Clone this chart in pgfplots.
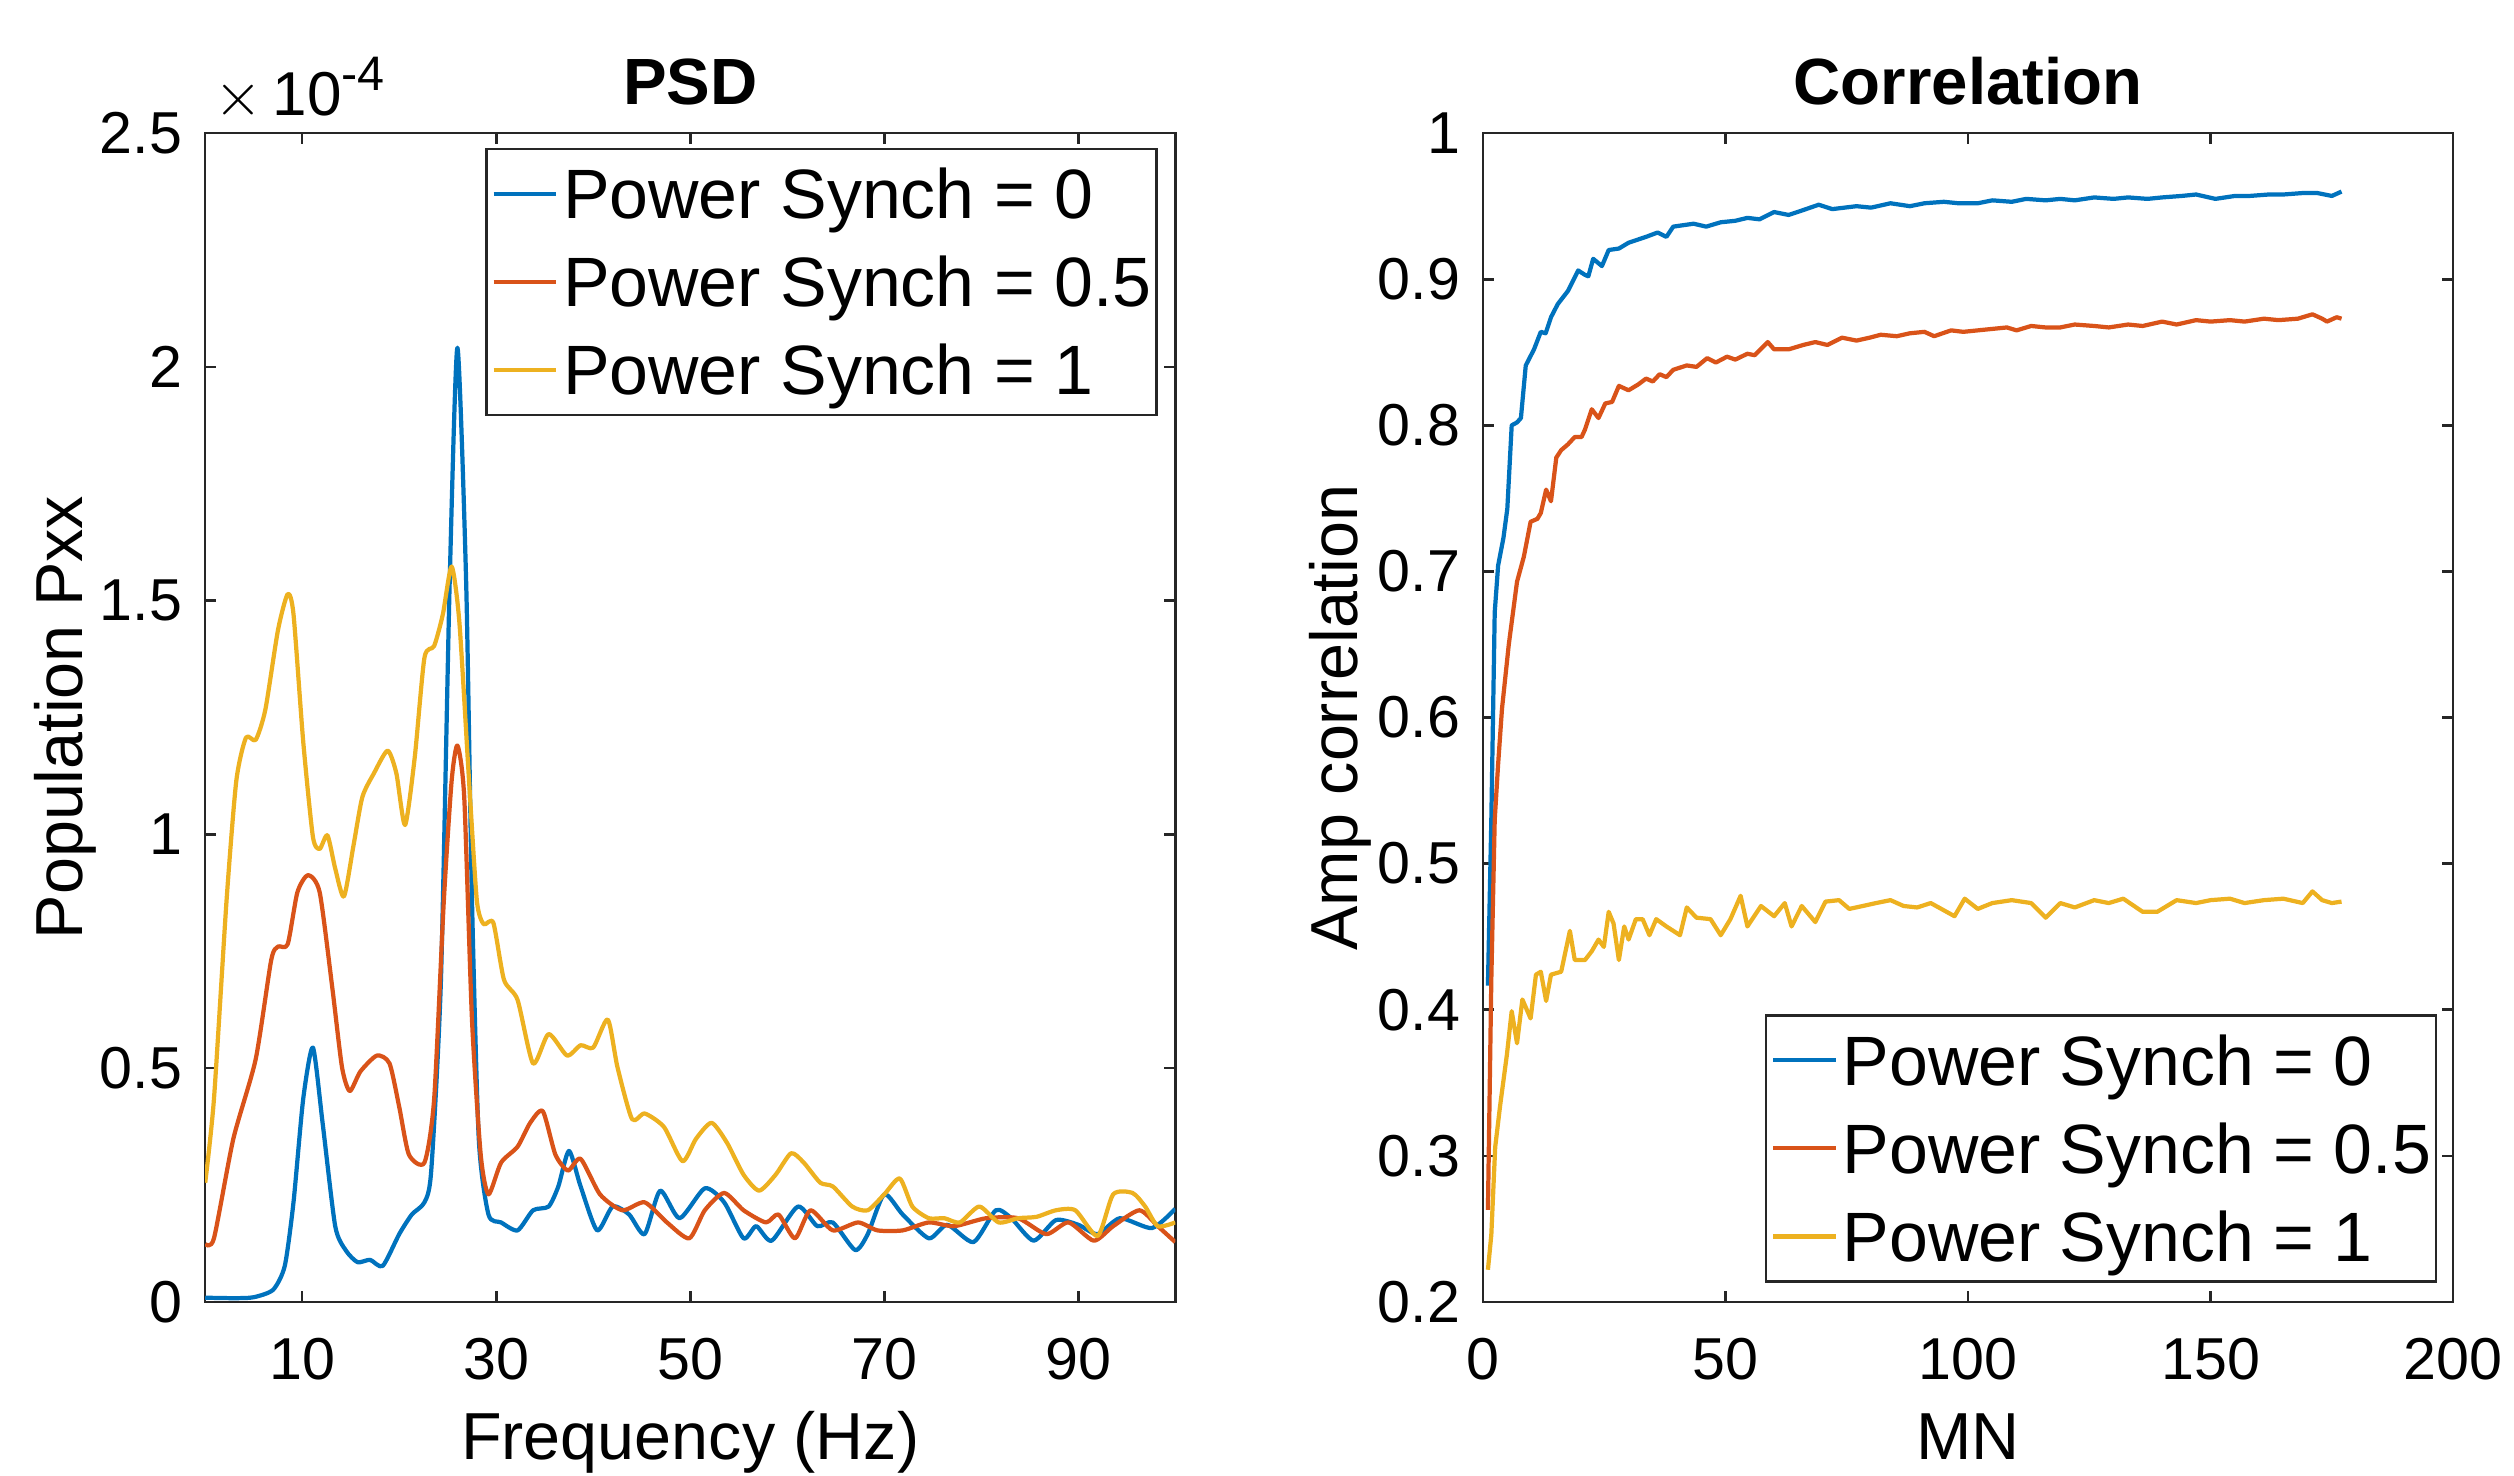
\documentclass[border=0pt]{standalone}
\usepackage{pgfplots}
\pgfplotsset{compat=1.18}
\usepackage{fontspec}
\setmainfont{Liberation Sans}
\definecolor{mblue}{rgb}{0,0.447,0.741}
\definecolor{mred}{rgb}{0.850,0.325,0.098}
\definecolor{myellow}{rgb}{0.929,0.694,0.125}
\definecolor{axgray}{rgb}{0.15,0.15,0.15}
\pgfplotsset{
  myaxis/.style={
    scale only axis, width=6.05cm, height=7.29cm,
    axis line style={draw=axgray, line width=0.45pt},
    tick style={draw=axgray, line width=0.45pt},
    major tick length=0.07cm, tick align=inside,
    ticklabel style={font=\fontsize{10.5}{12}\selectfont, text=black},
    xticklabel style={yshift=-0.1cm},
    yticklabel style={xshift=-0.02cm},
    /pgf/number format/assume math mode=true,
    every axis title/.style={at={(0.5,1)}, anchor=base, yshift=0.18cm, font=\bfseries\fontsize{11.6}{13}\selectfont},
    every axis x label/.style={at={(axis description cs:0.5,0)}, anchor=base, yshift=-0.98cm, font=\fontsize{11.8}{13}\selectfont},
    every axis y label/.style={at={(axis description cs:-0.127,0.5)}, rotate=90, anchor=base, font=\fontsize{11.8}{13}\selectfont},
    legend cell align=left,
    legend image code/.code={\draw[#1, line width=0.75pt] (0cm,0cm) -- (0.39cm,0cm);},
    legend style={draw=axgray, line width=0.45pt, font=\fontsize{12.4}{14}\selectfont,
      inner xsep=0.03cm, inner ysep=0.065cm, row sep=0.12cm, column sep=0.03cm,
      nodes={inner sep=0pt, text height=0.37cm, text depth=0.06cm}},
    every axis plot/.append style={line width=0.75pt, line join=round},
  }
}
\begin{document}
\begin{tikzpicture}
\path[use as bounding box] (0,0) rectangle (15.68cm,9.2cm);
\begin{axis}[myaxis, name=psd, at={(1.28cm,1.08cm)}, anchor=south west,
  title={PSD}, xlabel={Frequency (Hz)}, ylabel={Population Pxx},
  xmin=0, xmax=100, ymin=0, ymax=2.5,
  xtick={10,30,50,70,90}, ytick={0,0.5,1,1.5,2,2.5},
  legend style={at={(rel axis cs:1,1)}, anchor=north east, xshift=-0.11cm, yshift=-0.09cm},
]
\addplot[mblue, smooth, tension=0.4] coordinates {
(0,0.009) (3,0.008) (5,0.010) (7,0.026) (8.2,0.077) (9.1,0.213) (10.1,0.434) (11.1,0.544) (12.1,0.383) (13.4,0.162) (14.5,0.110) (15.7,0.085) (17,0.090) (18.3,0.077) (20,0.145) (21.3,0.187) (22.6,0.213) (23.3,0.281) (24.3,0.689) (25.2,1.539) (26,2.041) (26.9,1.539) (27.5,0.859) (28.2,0.349) (29.2,0.187) (30.5,0.170) (32.2,0.153) (33.8,0.196) (35.4,0.204) (36.4,0.247) (37.5,0.323) (38.7,0.247) (40.4,0.153) (42,0.204) (43.7,0.187) (45.3,0.145) (46.9,0.238) (48.9,0.179) (51.5,0.243) (53.5,0.213) (55.5,0.136) (56.8,0.162) (58.4,0.131) (61.1,0.204) (63.1,0.162) (64.7,0.170) (67,0.111) (68.3,0.145) (70,0.230) (71.9,0.187) (74.6,0.136) (76.5,0.165) (79.2,0.128) (81.5,0.196) (83.1,0.179) (85.4,0.131) (87.7,0.175) (90,0.165) (92,0.145) (94.3,0.179) (97.6,0.158) (100,0.199)
};
\addlegendentry{Power Synch = 0}
\addplot[mred, smooth, tension=0.4] coordinates {
(0,0.124) (0.9,0.136) (2.9,0.349) (5.2,0.519) (6.8,0.731) (7.5,0.760) (8.5,0.765) (9.5,0.876) (10.6,0.913) (11.8,0.876) (13.1,0.672) (14.1,0.502) (14.9,0.451) (16,0.493) (17.7,0.527) (19,0.510) (20,0.417) (21,0.315) (22.6,0.298) (23.6,0.434) (24.6,0.859) (25.4,1.114) (26,1.190) (26.7,1.080) (27.5,0.604) (28.4,0.315) (29.2,0.230) (30.5,0.298) (32.2,0.332) (33.5,0.383) (34.8,0.408) (36.1,0.315) (37.4,0.281) (38.7,0.306) (40.7,0.230) (43,0.196) (45.3,0.213) (47.6,0.170) (49.9,0.136) (51.5,0.196) (53.5,0.233) (55.5,0.196) (57.8,0.170) (59.1,0.187) (60.8,0.136) (62.4,0.196) (64.7,0.153) (67.3,0.170) (69.3,0.153) (71.9,0.153) (74.6,0.170) (77.2,0.162) (80.5,0.179) (83.8,0.179) (86.7,0.145) (89,0.170) (91.6,0.131) (93.6,0.162) (96.3,0.196) (98.2,0.162) (100,0.128)
};
\addlegendentry{Power Synch = 0.5}
\addplot[myellow, smooth, tension=0.4] coordinates {
(0,0.255) (0.9,0.434) (2.2,0.859) (3.2,1.114) (4.2,1.207) (5.2,1.202) (6.2,1.267) (7.5,1.437) (8.5,1.514) (9.1,1.471) (10.1,1.199) (11.1,0.995) (11.8,0.969) (12.6,0.998) (13.4,0.927) (14.3,0.867) (15.3,0.978) (16.2,1.080) (17.4,1.131) (18.8,1.179) (19.7,1.131) (20.6,1.020) (21.6,1.165) (22.6,1.378) (23.6,1.403) (24.5,1.471) (25.4,1.573) (26.2,1.454) (27.2,1.114) (28,0.859) (28.7,0.808) (29.7,0.811) (30.8,0.689) (32.2,0.646) (33.8,0.510) (35.4,0.573) (37.3,0.527) (38.7,0.549) (40,0.544) (41.5,0.604) (42.5,0.502) (44,0.391) (45.3,0.403) (47.3,0.374) (49.2,0.301) (50.6,0.349) (52.2,0.383) (53.8,0.340) (55.5,0.272) (57.1,0.238) (58.8,0.272) (60.4,0.318) (61.7,0.298) (63.4,0.255) (64.7,0.247) (66.7,0.204) (68.3,0.196) (70,0.230) (71.6,0.264) (72.9,0.204) (74.6,0.179) (76.2,0.179) (77.8,0.170) (79.8,0.204) (81.8,0.170) (83.8,0.179) (85.7,0.182) (87.7,0.196) (89.7,0.196) (92,0.141) (93.6,0.230) (95.6,0.233) (96.9,0.204) (98.2,0.162) (100,0.170)
};
\addlegendentry{Power Synch = 1}
\end{axis}
\node[anchor=base west, inner sep=0pt, font=\fontsize{11}{12}\selectfont] at ([xshift=0.05cm,yshift=0.11cm]psd.north west) {$\times$\,10\raisebox{0.75ex}{\fontsize{8.6}{10}\selectfont -4}};
\begin{axis}[myaxis, at={(9.25cm,1.08cm)}, anchor=south west,
  title={Correlation}, xlabel={MN}, ylabel={Amp correlation},
  xmin=0, xmax=200, ymin=0.2, ymax=1,
  xtick={0,50,100,150,200}, ytick={0.2,0.3,0.4,0.5,0.6,0.7,0.8,0.9,1},
  every axis y label/.style={at={(axis description cs:-0.129,0.5)}, rotate=90, anchor=base, font=\fontsize{11.8}{13}\selectfont},
  legend style={at={(rel axis cs:1,0)}, anchor=south east, xshift=-0.10cm, yshift=0.12cm},
]
\addplot[mblue] coordinates {
(1,0.4165) (1.7,0.530) (2.4,0.672) (3.1,0.704) (4.2,0.723) (5,0.743) (5.9,0.800) (7,0.802) (7.8,0.805) (8.8,0.841) (10.5,0.852) (11.9,0.864) (12.9,0.863) (14,0.874) (15.4,0.883) (17.5,0.892) (19.6,0.906) (21,0.903) (21.7,0.902) (22.7,0.914) (24.5,0.909) (25.9,0.920) (28,0.921) (30,0.925) (33.6,0.929) (36,0.932) (37.8,0.929) (39.2,0.936) (43.4,0.938) (46,0.936) (49,0.939) (52,0.940) (54.5,0.942) (57,0.941) (60,0.946) (63,0.944) (65.7,0.947) (69.2,0.951) (72,0.948) (77,0.950) (80,0.949) (84,0.952) (88,0.950) (91,0.952) (95,0.953) (98,0.952) (102,0.952) (105,0.954) (109,0.953) (112,0.955) (116,0.954) (119,0.955) (122,0.954) (126,0.956) (130,0.955) (133,0.956) (137,0.955) (140,0.956) (144,0.957) (147,0.958) (151,0.955) (155,0.957) (158,0.957) (162,0.958) (165,0.958) (169,0.959) (172,0.959) (175,0.957) (177,0.960)
};
\addlegendentry{Power Synch = 0}
\addplot[mred] coordinates {
(1,0.263) (1.7,0.421) (2.4,0.530) (3.1,0.568) (3.9,0.606) (5.3,0.650) (7,0.693) (8.4,0.710) (9.8,0.734) (11.2,0.736) (11.9,0.740) (13,0.756) (14,0.748) (15.1,0.778) (16.1,0.783) (17.5,0.787) (18.9,0.792) (20.3,0.792) (21,0.797) (22.4,0.811) (23.8,0.805) (25.2,0.815) (26.6,0.816) (28,0.827) (30,0.824) (32,0.828) (33.6,0.832) (35,0.830) (36.4,0.835) (37.8,0.833) (39.2,0.838) (42,0.841) (44,0.840) (46.2,0.846) (48,0.843) (50.3,0.847) (52,0.845) (54.5,0.849) (56,0.848) (58.7,0.857) (60,0.852) (63,0.852) (66,0.855) (68.5,0.857) (71,0.855) (74,0.860) (77,0.858) (79.7,0.860) (82,0.862) (85.3,0.861) (88,0.863) (91,0.864) (93,0.861) (96.5,0.865) (99,0.864) (102,0.865) (105,0.866) (108,0.867) (110,0.865) (113,0.868) (116,0.867) (119,0.867) (122,0.869) (126,0.868) (129,0.867) (133,0.869) (136,0.868) (140,0.871) (143,0.869) (147,0.872) (150,0.871) (154,0.872) (157,0.871) (161,0.873) (164,0.872) (168,0.873) (171,0.876) (173,0.873) (174,0.871) (176,0.874) (177,0.873)
};
\addlegendentry{Power Synch = 0.5}
\addplot[myellow] coordinates {
(1,0.222) (1.7,0.246) (2.5,0.306) (3.5,0.334) (4.9,0.369) (5.9,0.399) (7,0.377) (8.1,0.407) (9.8,0.394) (10.9,0.424) (11.9,0.426) (13,0.406) (14,0.424) (16.1,0.426) (17.9,0.454) (18.9,0.434) (21,0.434) (22.4,0.440) (23.8,0.448) (24.9,0.443) (25.9,0.467) (26.9,0.459) (28,0.434) (29.1,0.457) (30,0.448) (31.5,0.462) (32.9,0.462) (34.3,0.451) (35.7,0.462) (37.8,0.457) (40.6,0.451) (42,0.470) (44,0.463) (46.9,0.462) (49,0.451) (51,0.462) (53.1,0.478) (54.5,0.457) (57.3,0.471) (60,0.464) (62.2,0.473) (63.6,0.457) (65.7,0.471) (68.5,0.460) (70.6,0.474) (73.4,0.475) (75.5,0.469) (78.3,0.471) (81,0.473) (84,0.475) (86.7,0.471) (89.5,0.470) (92.3,0.473) (97.2,0.464) (99.3,0.476) (102,0.469) (105,0.473) (109,0.475) (113,0.473) (116,0.463) (119,0.473) (122,0.470) (126,0.475) (129,0.473) (132,0.476) (136,0.467) (139,0.467) (143,0.475) (147,0.473) (150,0.475) (154,0.476) (157,0.473) (161,0.475) (165,0.476) (169,0.473) (171,0.481) (173,0.475) (175,0.473) (177,0.474)
};
\addlegendentry{Power Synch = 1}
\end{axis}
\end{tikzpicture}
\end{document}
